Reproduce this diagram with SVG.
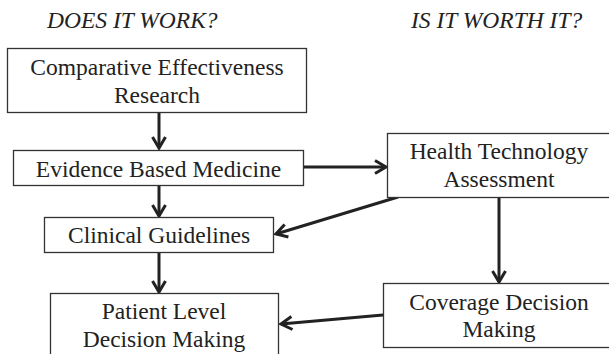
<svg xmlns="http://www.w3.org/2000/svg" width="609" height="354" viewBox="0 0 609 354">
  <defs>
    <marker id="arrow" markerUnits="userSpaceOnUse" markerWidth="16" markerHeight="16" viewBox="0 0 16 16" refX="13" refY="8" orient="auto">
      <path d="M2,1.5 L13,8 L2,14.5" fill="none" stroke="#222222" stroke-width="3" stroke-linejoin="miter"/>
    </marker>
  </defs>
  <rect width="609" height="354" fill="#ffffff"/>

  <!-- column headings -->
  <text x="47" y="28" font-family="Liberation Serif, serif" font-size="23.5" font-style="italic" fill="#222222">DOES IT WORK?</text>
  <text x="411" y="28" font-family="Liberation Serif, serif" font-size="23.5" font-style="italic" fill="#222222">IS IT WORTH IT?</text>

  <g id="connectors" fill="none" stroke="#222222" stroke-width="3" marker-end="url(#arrow)">
    <line x1="159" y1="113" x2="159" y2="148"/>
    <line x1="304" y1="167" x2="386" y2="167"/>
    <line x1="159" y1="186" x2="159" y2="216"/>
    <line x1="398" y1="197" x2="276" y2="234"/>
    <line x1="159" y1="253" x2="159" y2="292"/>
    <line x1="499" y1="197" x2="499" y2="282"/>
    <line x1="383" y1="315" x2="281" y2="324"/>
  </g>

  <g font-family="Liberation Serif, serif" font-size="23.5" fill="#222222" text-anchor="middle">
    <g id="cer">
      <rect x="7.5" y="48.5" width="299" height="64" fill="#ffffff" stroke="#333333" stroke-width="1.3"/>
      <text x="157" y="75">Comparative Effectiveness</text>
      <text x="157" y="103">Research</text>
    </g>
    <g id="ebm">
      <rect x="13.5" y="150.5" width="290" height="35" fill="#ffffff" stroke="#333333" stroke-width="1.3"/>
      <text x="158.5" y="177">Evidence Based Medicine</text>
    </g>
    <g id="hta">
      <rect x="387.5" y="133.5" width="224" height="64" fill="#ffffff" stroke="#333333" stroke-width="1.3"/>
      <text x="499" y="159">Health Technology</text>
      <text x="499" y="187">Assessment</text>
    </g>
    <g id="guidelines">
      <rect x="44.5" y="217.5" width="229" height="35" fill="#ffffff" stroke="#333333" stroke-width="1.3"/>
      <text x="159" y="243">Clinical Guidelines</text>
    </g>
    <g id="patient">
      <rect x="50.5" y="293.5" width="228" height="70" fill="#ffffff" stroke="#333333" stroke-width="1.3"/>
      <text x="164" y="319">Patient Level</text>
      <text x="164" y="347">Decision Making</text>
    </g>
    <g id="coverage">
      <rect x="383.5" y="283.5" width="232" height="64" fill="#ffffff" stroke="#333333" stroke-width="1.3"/>
      <text x="499" y="310">Coverage Decision</text>
      <text x="499" y="337">Making</text>
    </g>
  </g>
</svg>
